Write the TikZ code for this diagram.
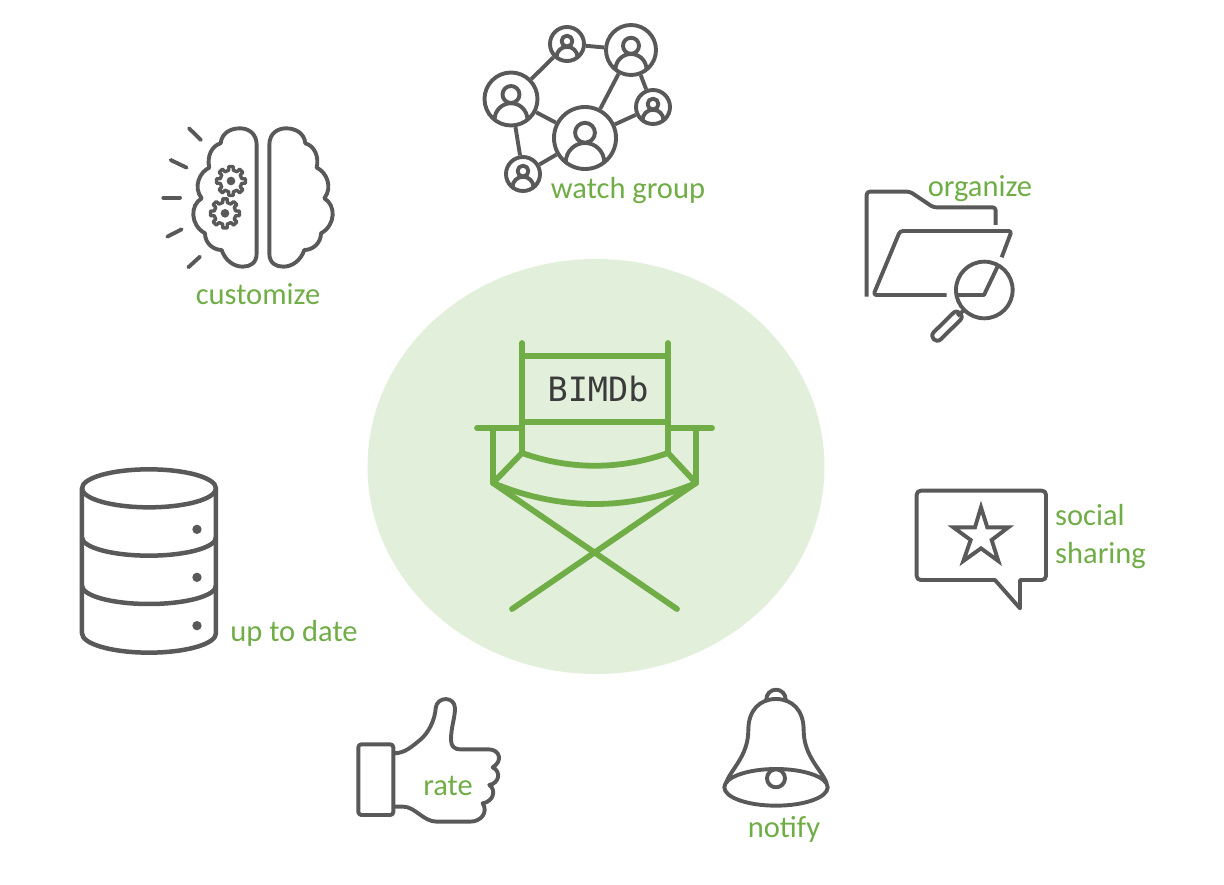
\documentclass[tikz,border=0pt]{standalone}
\usepackage{fontspec}
\usetikzlibrary{shapes.geometric}
\setmainfont{Carlito}
\newfontfamily\chairfont{DejaVu Sans Mono}
\definecolor{icongrey}{HTML}{595959}
\definecolor{chairgreen}{HTML}{70AD47}
\definecolor{discgreen}{HTML}{E2EFDA}
\definecolor{chairtext}{HTML}{3B3B3B}

\begin{document}
\begin{tikzpicture}[%
    x=1pt, y=-1pt,
    icon/.style={draw=icongrey, line width=3.9pt, line join=round},
    chairline/.style={draw=chairgreen, line width=5.8pt, line cap=round, line join=round},
    caption/.style={text=chairgreen, font=\fontsize{30.5}{38}\selectfont, inner sep=0pt, align=left},
    gearwheel/.pic={
        \draw[icon, line width=3.4pt] (-12:33)
            foreach \a in {0,45,...,315}{
               -- (\a-12:33) -- (\a-9:44) -- (\a+9:44) -- (\a+12:33)} -- cycle;
        \fill[icongrey] (0,0) circle (13);
        },
]

\useasboundingbox (0,0) rectangle (1224,884);

\node[ellipse, fill=discgreen, minimum width=457, minimum height=415, inner sep=0pt] (disc) at (596,466.5) {};

% chair
\draw[chairline] (522,343) -- (522,453) (668,343) -- (668,453)
                 (522,356) -- (668,356) (522,422) -- (668,422);
\draw[chairline] (477,428) -- (522,428) (668,428) -- (712,428);
\draw[chairline] (493,428) -- (493,483) -- (522,453)
                 .. controls (570,470) and (620,470) .. (668,453)
                 -- (696,483) -- (696,428);
\draw[chairline] (493,483) .. controls (560,511) and (630,511) .. (696,483);
\draw[chairline] (493,483) -- (677,609) (696,483) -- (512,609);
\node[text=chairtext, font=\chairfont\fontsize{33.5}{40}\selectfont, inner sep=0pt] (chairname) at (598,389) {BIMDb};

% watch group
\foreach \pname/\px/\py/\pr in {p1/567/44/17, p2/631/50/25, p3/511/99/26.5, p4/585/138/31, p5/653/107/17, p6/523/174/17}{
    \node[circle, icon, minimum size=2*\pr, inner sep=0pt] (\pname) at (\px,\py) {};
    \begin{scope}[shift={(\px,\py)}, scale=\pr]
    \draw[icon] (0,-0.17) circle (0.32);
    \draw[icon] (-0.62,0.78) arc[start angle=180, end angle=360, radius=0.62];
    \end{scope}
}
\draw[icon] (p3) -- (p1);
\draw[icon] (p1) -- (p2);
\draw[icon] (p3) -- (p4);
\draw[icon] (p3) -- (p6);
\draw[icon] (p6) -- (p4);
\draw[icon] (p4) -- (p2);
\draw[icon] (p4) -- (p5);
\draw[icon] (p2) -- (p5);
\node[caption] (watch) at (628,191) {watch group};

% brain
\begin{scope}[shift={(150,115)}, scale=0.3333]
\foreach \s in {1,-1}{
\draw[icon, xshift=339, xscale=\s, xshift=-339] (320,415) -- (320,90)
    .. controls (320,55) and (295,40) .. (270,40)
    .. controls (240,40) and (215,55) .. (212,85)
    .. controls (185,92) and (170,125) .. (178,158)
    .. controls (150,170) and (128,215) .. (155,250)
    .. controls (120,270) and (120,330) .. (165,355)
    .. controls (165,385) and (190,405) .. (215,405)
    .. controls (225,435) and (250,455) .. (278,455)
    .. controls (300,455) and (320,445) .. (320,415) -- cycle;
}
\foreach \xa/\ya/\xb/\yb in {117/40/153/75, 62/135/110/158, 40/248/90/248, 52/365/95/343, 115/457/150/425}
    \draw[icon, line cap=round] (\xa,\ya) -- (\xb,\yb);
\pic[transform shape] at (243,198) {gearwheel};
\pic[transform shape] at (225,295) {gearwheel};
\end{scope}
\node[caption] (customize) at (258,294) {customize};

% folder
\begin{scope}[shift={(850,170)}, scale=0.3333]
\draw[icon, rounded corners=3pt] (50,380) -- (50,65) -- (180,65) -- (250,112) -- (437,112) -- (437,165);
\draw[icon, rounded corners=3pt] (455,262) -- (485,183) -- (150,183) -- (70,375) -- (290,375);
\draw[icon] (318,375) -- (402,375) -- (445,285);
\draw[icon] (403,360) circle (85);
\draw[icon] (343,420) -- (322,438);
\draw[icon] (330.6,450.6) -- (272.6,507.6) .. controls (258,522) and (237,501) .. (251.4,486.4)
    -- (309.4,429.4) .. controls (323,415) and (345,437) .. (330.6,450.6) -- cycle;
\end{scope}
\node[caption] (organize) at (980,189) {organize};

% speech bubble
\begin{scope}[shift={(900,480)}, scale=0.3333]
\draw[icon] (285,300) [rounded corners=4pt] -- (50,300) -- (50,32) -- (438,32) -- (438,300) [sharp corners] -- (360,300) -- (360,385) -- cycle;
\draw[icon, line join=miter] (243,82) -- (262,142) -- (325,142) -- (275,180) -- (295,243)
    -- (243,205) -- (190,243) -- (212,180) -- (160,142) -- (225,142) -- cycle;
\end{scope}
\node[caption, anchor=west] (sharing) at (1055,537) {social\\sharing};

% database
\begin{scope}[shift={(70,460)}, scale=0.3333]
\draw[icon, line width=4.5pt] (36,85) -- (36,520) arc[start angle=180, end angle=0, x radius=201, y radius=58] -- (438,85);
\draw[icon, line width=4.5pt] (237,85) ellipse (201 and 57);
\foreach \y in {232,377}
    \draw[icon, line width=4.5pt] (36,\y) arc[start angle=180, end angle=0, x radius=201, y radius=55];
\foreach \y in {208,352,497}
    \fill[icongrey] (381,\y) circle (14);
\end{scope}
\node[caption] (uptodate) at (294,633) {up to date};

% thumb
\begin{scope}[shift={(340,690)}, scale=0.3333]
\draw[icon, rounded corners=3pt] (55,163) rectangle (160,375);
\draw[icon] (160,190) .. controls (195,190) and (215,170) .. (240,150)
    .. controls (265,130) and (285,90) .. (287,55)
    .. controls (290,18) and (345,18) .. (345,55)
    .. controls (345,85) and (333,110) .. (333,150)
    .. controls (333,170) and (345,178) .. (360,178) -- (445,178)
    .. controls (482,178) and (488,215) .. (458,232)
    .. controls (485,245) and (477,280) .. (448,285)
    .. controls (470,300) and (460,335) .. (428,340)
    .. controls (445,365) and (425,395) .. (390,395) -- (290,395)
    .. controls (250,395) and (225,350) .. (190,350) -- (160,350);
\end{scope}
\node[caption] (rate) at (448,786) {rate};

% bell
\begin{scope}[shift={(710,680)}, scale=0.3333]
\draw[icon] (169,58) arc[start angle=180, end angle=360, radius=29];
\draw[icon] (48,310) .. controls (60,270) and (115,230) .. (115,150)
    .. controls (115,90) and (150,57) .. (198,57)
    .. controls (246,57) and (281,90) .. (281,150)
    .. controls (281,230) and (336,270) .. (350,310);
\draw[icon] (198,322) ellipse (155 and 55);
\draw[icon] (198,295) circle (27);
\end{scope}
\node[caption] (notify) at (784,829) {notify};
\end{tikzpicture}
\end{document}
